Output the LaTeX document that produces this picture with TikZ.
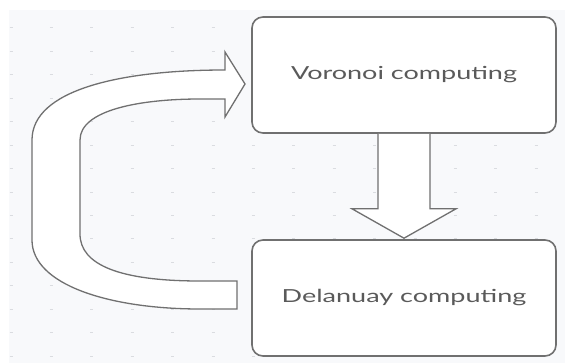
\documentclass[tikz,border=0pt]{standalone}
\usepackage{fontspec}
\setmainfont{Lato}[FakeStretch=1.5]
\usetikzlibrary{calc}
\definecolor{bggray}{HTML}{F8F9FB}
\definecolor{dotgray}{HTML}{DADCE0}
\definecolor{linegray}{HTML}{707070}
\definecolor{textgray}{HTML}{5A5A5A}
\tikzset{
  procbox/.style={draw=linegray, line width=1.6pt, fill=white, rounded corners=11pt,
    minimum width=304pt, minimum height=116pt, inner sep=0pt, text=textgray,
    font=\fontsize{18}{20}\selectfont},
  blockarrow/.style={draw=linegray, line width=1.3pt, fill=white, line join=miter},
}
\begin{document}
\begin{tikzpicture}[x={(1pt,0)}, y={(0,-1pt)}]
\useasboundingbox (0,0) rectangle (565,363);
\fill[white] (0,0) rectangle (565,363);
\fill[bggray] (9,10) rectangle (565,363);
% dot grid
\foreach \i in {0,...,13} {
  \foreach \j in {0,...,14} {
    \draw[dotgray, line width=1pt] ({11+40.4*\i-1.5},{28+23.43*\j}) -- ++(3,0);
  }
}
% nodes
\node[procbox] (v) at (404,75) {\raisebox{-2pt}{Voronoi computing}};
\node[procbox] (d) at (404,298) {Delanuay computing};
% down block arrow
\draw[blockarrow] ($(v.south)+(-26,0)$) -- ($(v.south)+(-26,75)$) -- ($(v.south)+(-52,75)$)
  -- ($(d.north)+(0,-1)$) -- ($(v.south)+(52,75)$) -- ($(v.south)+(26,75)$) -- ($(v.south)+(26,0)$);
% curved block arrow
\draw[blockarrow] (245,84) -- (225,52) -- (225,70)
  .. controls (120,70) and (32,90) .. (32,140)
  -- (32,240)
  .. controls (32,285) and (110,309) .. (200,309)
  -- (237,309) -- (237,281) -- (200,281)
  .. controls (120,281) and (80,265) .. (80,234)
  -- (80,140)
  .. controls (80,110) and (140,99) .. (200,99)
  -- (225,99) -- (225,117) -- cycle;
\end{tikzpicture}
\end{document}
